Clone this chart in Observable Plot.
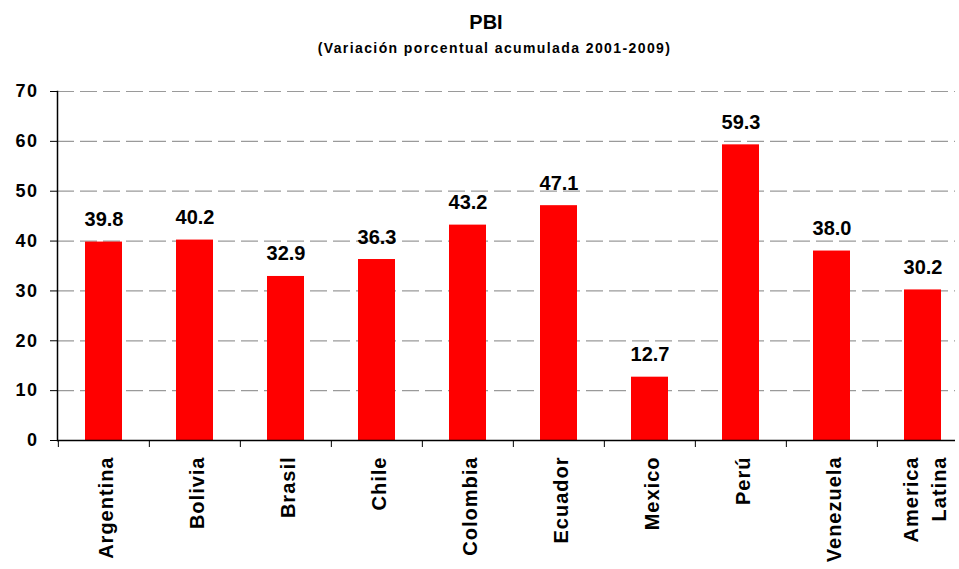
<!DOCTYPE html>
<html>
<head>
<meta charset="utf-8">
<script src="https://cdn.jsdelivr.net/npm/d3@7"></script>
<script src="https://cdn.jsdelivr.net/npm/@observablehq/plot@0.6"></script>
<style>
  html, body { margin: 0; padding: 0; background: #fff; }
  body { width: 959px; height: 569px; overflow: hidden; font-family: "Liberation Sans", Arial, sans-serif; }
  #head { position: relative; height: 62px; width: 959px; }
  #title { position: absolute; top: 11px; left: 0; width: 959px; text-align: center; padding-left: 13px; box-sizing: border-box;
           font-size: 20px; line-height: 22px; font-weight: bold; color: #000; }
  #subtitle { position: absolute; top: 39px; left: 0; width: 959px; text-align: center; padding-left: 30px; box-sizing: border-box;
              font-size: 14px; line-height: 18px; font-weight: bold; letter-spacing: 1.4px; color: #000; }
  svg g[aria-label="x-axis tick label"] text { letter-spacing: 1px; }
  svg g[aria-label="y-axis tick label"] text { letter-spacing: 1.5px; }
</style>
</head>
<body>
<div id="head">
  <div id="title">PBI</div>
  <div id="subtitle">(Variación porcentual acumulada 2001-2009)</div>
</div>
<div id="chart"></div>
<script>
const countries = ["Argentina", "Bolivia", "Brasil", "Chile", "Colombia", "Ecuador", "Mexico", "Perú", "Venezuela", "America\nLatina"];
const values = [39.8, 40.2, 32.9, 36.3, 43.2, 47.1, 12.7, 59.3, 38.0, 30.2];
const yTicks = [0, 10, 20, 30, 40, 50, 60, 70];

const data = countries.map((c, i) => ({country: c, value: values[i]}));
const step = (970 - 57) / countries.length;

const chart = Plot.plot({
  width: 959,
  height: 507,
  marginTop: 29,
  marginBottom: 129,
  marginLeft: 57,
  marginRight: 4,
  style: {fontFamily: "'Liberation Sans', Arial, sans-serif", fontWeight: "bold", color: "#000", background: "#fff"},
  x: {domain: countries, range: [57, 970], paddingInner: 0.59, paddingOuter: 0.295, label: null},
  y: {domain: [0, 70], label: null},
  marks: [
    Plot.ruleY(yTicks.filter(d => d > 0), {stroke: "#9a9a9a", strokeWidth: 1.2, strokeDasharray: "17,6"}),
    Plot.barY(data, {x: "country", y: "value", fill: "#ff0000"}),
    Plot.text(data, {x: "country", y: "value", text: d => d.value.toFixed(1), lineAnchor: "bottom", dy: -16,
                     fontSize: 20, fontWeight: "bold", fill: "#000"}),
    Plot.axisY({ticks: yTicks, tickSize: 7, tickPadding: 12, fontSize: 18, fontWeight: "bold", stroke: "#000", label: null}),
    Plot.axisX({tickSize: 7, tickFormat: () => "", dx: -step / 2, stroke: "#000", label: null}),
    Plot.axisX({tickSize: 0, tickRotate: -90, tickPadding: 16, fontSize: 20, fontWeight: "bold", lineHeight: 1.4, label: null}),
    Plot.frame({anchor: "left", stroke: "#000", strokeWidth: 1.5}),
    Plot.ruleY([0], {stroke: "#000", strokeWidth: 1.5})
  ]
});
document.getElementById("chart").appendChild(chart);
</script>
</body>
</html>
